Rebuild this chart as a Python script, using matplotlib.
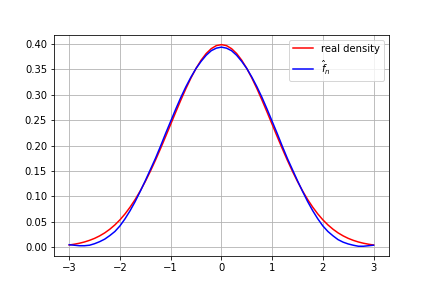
import numpy as np
import matplotlib
matplotlib.use("Agg")
import matplotlib.pyplot as plt

# x grid, step 0.1 from -3 to 3
x = np.round(np.arange(-30, 31) / 10, 1)

# right half values (x = 0.0 ... 3.0)
real_right = [0.3989, 0.3970, 0.3910, 0.3814, 0.3683, 0.3521, 0.3332, 0.3123,
              0.2897, 0.2661, 0.2420, 0.2179, 0.1942, 0.1714, 0.1497, 0.1295,
              0.1109, 0.0940, 0.0790, 0.0656, 0.0540, 0.0440, 0.0355, 0.0283,
              0.0224, 0.0175, 0.0136, 0.0104, 0.0079, 0.0060, 0.0044]
real_density = real_right[:0:-1] + real_right

# estimate, x = -3.0 ... 3.0
f_hat = [0.0050, 0.0040, 0.0030, 0.0030, 0.0040, 0.0070, 0.0110, 0.0160,
         0.0230, 0.0310, 0.0420, 0.0560, 0.0720, 0.0900, 0.1100, 0.1310,
         0.1530, 0.1750, 0.1990, 0.2240, 0.2480, 0.2720, 0.2950, 0.3160,
         0.3350, 0.3520, 0.3660, 0.3780, 0.3870, 0.3920, 0.3940,
         0.3920, 0.3870, 0.3780, 0.3660, 0.3520, 0.3350, 0.3160, 0.2950,
         0.2720, 0.2480, 0.2240, 0.1990, 0.1750, 0.1530, 0.1310, 0.1100,
         0.0900, 0.0720, 0.0560, 0.0420, 0.0310, 0.0225, 0.0150, 0.0100,
         0.0065, 0.0040, 0.0020, 0.0020, 0.0030, 0.0040]

fig, ax = plt.subplots(figsize=(6, 4), dpi=72)
ax.plot(x, real_density, color='red', label='real density')
ax.plot(x, f_hat, color='blue', label=r'$\hat{f}_n$')
ax.grid(True)
ax.legend(loc='upper right')

fig.savefig('out.png', dpi=72)
